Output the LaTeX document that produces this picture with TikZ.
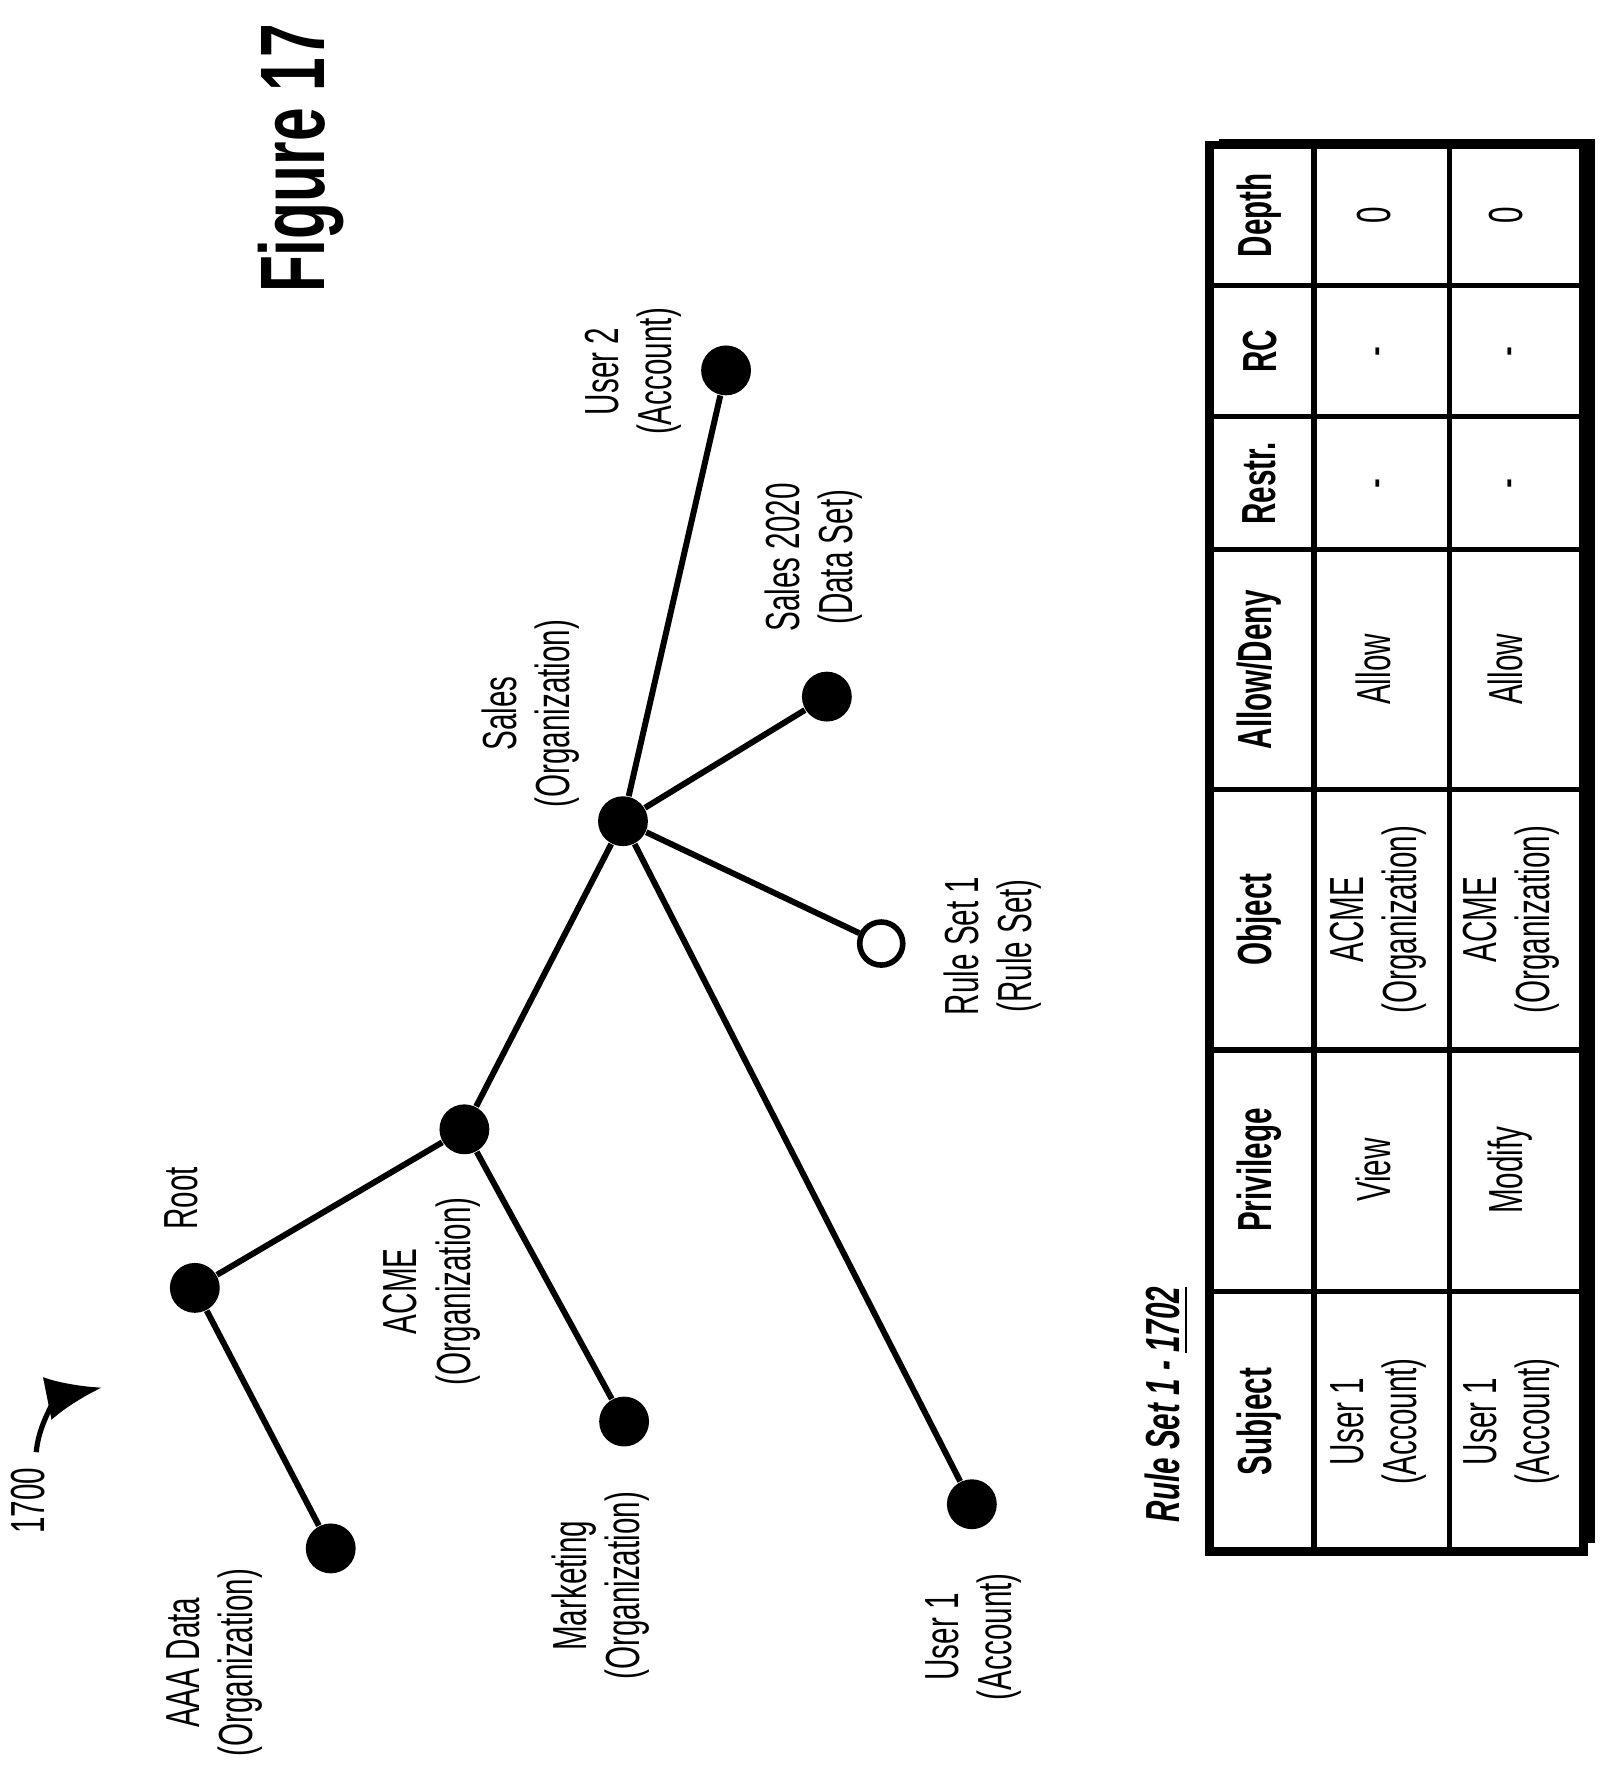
\documentclass[tikz,border=0pt]{standalone}
\usepackage{fontspec}
\setmainfont{Liberation Sans}
\usepackage{graphicx}
\usetikzlibrary{arrows.meta}
\newcommand\lbl[1]{\scalebox{0.62}[1]{\begin{tabular}{@{}c@{}}#1\end{tabular}}}
\begin{document}
\begin{tikzpicture}[x=0.01cm,y=-0.01cm,
  dot/.style={circle,fill=black,minimum size=0.44cm,inner sep=0},
  odot/.style={circle,draw=black,fill=white,line width=1.4pt,minimum size=0.38cm,inner sep=0},
  edge/.style={line width=1.5pt},
  txt/.style={rotate=90,font=\fontsize{12}{13.4}\selectfont,inner sep=0},
  hd/.style={txt,font=\fontsize{12}{13.4}\selectfont\bfseries},
  tl/.style={line width=1.3pt}]
\useasboundingbox (0,0) rectangle (1420,1560);
% nodes
\node[dot] (root) at (172,1137) {};
\node[dot] (aaa) at (292,1367) {};
\node[dot] (acme) at (410,997) {};
\node[dot] (mkt) at (551,1255) {};
\node[dot] (sales) at (550,725) {};
\node[dot] (u1) at (858,1328) {};
\node[dot] (sd) at (730,615) {};
\node[odot] (rs) at (778,833) {};
\node[dot] (u2) at (641,327) {};
\draw[edge] (root)--(aaa) (root)--(acme) (acme)--(mkt) (acme)--(sales)
  (sales)--(u1) (sales)--(sd) (sales)--(rs) (sales)--(u2);
% labels
\node[txt] (lroot) at (165,1058) {\lbl{Root}};
\node[txt] (laaa) at (190,1468) {\lbl{AAA Data\\(Organization)}};
\node[txt] (lacme) at (382,1140) {\lbl{ACME\\(Organization)}};
\node[txt] (lmkt) at (532,1400) {\lbl{Marketing\\(Organization)}};
\node[txt] (lsales) at (470,630) {\lbl{Sales\\(Organization)}};
\node[txt] (lu1) at (860,1445) {\lbl{User 1\\(Account)}};
\node[txt] (lrs) at (878,835) {\lbl{Rule Set 1\\(Rule Set)}};
\node[txt] (lsd) at (720,492) {\lbl{Sales 2020\\(Data Set)}};
\node[txt] (lu2) at (560,328) {\lbl{User 2\\(Account)}};
\node[rotate=90,inner sep=0,font=\fontsize{23}{25}\selectfont\bfseries] (fig) at (266,140) {\scalebox{0.66}[1]{Figure 17}};
\node[txt] (n1700) at (30,1325) {\lbl{1700}};
\coordinate (st) at (32,1282);
\coordinate (ar) at (90,1225);
\draw[line width=1.3pt,-{Latex[length=14pt,width=11pt]}] (st) .. controls (35,1250) and (55,1232) .. (ar);
% table
\node[rotate=90,inner sep=0,font=\fontsize{12}{13}\selectfont\bfseries\itshape] (title) at (1030,1240) {\scalebox{0.62}[1]{Rule Set 1 - \underline{1702}}};
\fill[black] (1076,123) rectangle (1408,1362);
\fill[white] (1068,128) rectangle (1398,1370);
\draw[line width=2.2pt] (1068,128) rectangle (1398,1370);
\draw[tl] (1160,128)--(1160,1370) (1280,128)--(1280,1370);
\foreach \y in {252,368,485,697,927,1140} \draw[tl] (1068,\y)--(1398,\y);
\node[hd] (h1) at (1112,1255) {\scalebox{0.62}[1]{Subject}};
\node[hd] (h2) at (1112,1033) {\scalebox{0.62}[1]{Privilege}};
\node[hd] (h3) at (1112,812) {\scalebox{0.62}[1]{Object}};
\node[hd] (h4) at (1112,591) {\scalebox{0.62}[1]{Allow/Deny}};
\node[hd] (h5) at (1112,427) {\scalebox{0.62}[1]{Restr.}};
\node[hd] (h6) at (1112,310) {\scalebox{0.62}[1]{RC}};
\node[hd] (h7) at (1112,190) {\scalebox{0.62}[1]{Depth}};
\foreach \x/\p/\r in {1218/View/a,1335/Modify/b}{
  \node[txt] (s\r) at (\x,1255) {\lbl{User 1\\(Account)}};
  \node[txt] (p\r) at (\x,1033) {\lbl{\p}};
  \node[txt] (o\r) at (\x,812) {\lbl{ACME\\(Organization)}};
  \node[txt] (a\r) at (\x,591) {\lbl{Allow}};
  \node[txt] (r\r) at (\x,427) {\lbl{-}};
  \node[txt] (c\r) at (\x,310) {\lbl{-}};
  \node[txt] (d\r) at (\x,190) {\lbl{0}};
}
\end{tikzpicture}
\end{document}
